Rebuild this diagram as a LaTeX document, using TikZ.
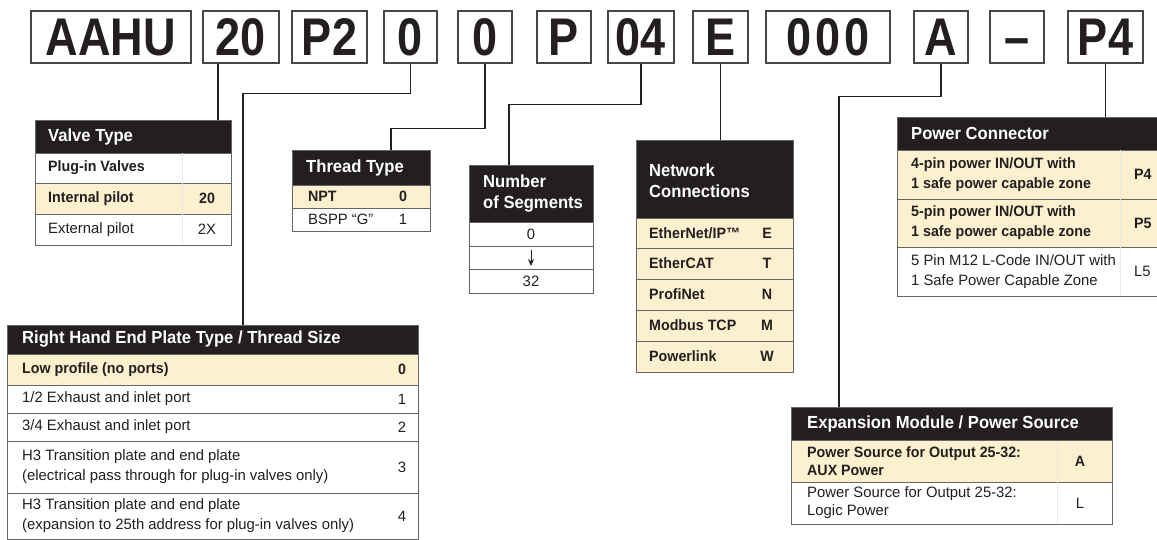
\documentclass[tikz,border=0pt]{standalone}
\usepackage{fontspec}
\setmainfont{Liberation Sans}[FakeStretch=0.95]
\newfontfamily\bigfont{Liberation Sans}[FakeStretch=0.85]
\newfontfamily\regfont{Liberation Sans}[FakeStretch=0.99]
\usetikzlibrary{arrows.meta}
\definecolor{cream}{RGB}{253,240,206}
\definecolor{hdrblack}{RGB}{35,31,32}
\definecolor{ink}{RGB}{35,31,32}
\newcommand{\rowfont}{\fontsize{15}{18.5}\selectfont}
\newcommand{\hdrfont}{\bfseries\fontsize{17.5}{21}\selectfont}
\newcommand{\codefont}{\bigfont\bfseries\fontsize{53}{53}\selectfont}
\begin{document}
\begin{tikzpicture}[x=1pt,y=-1pt,
  codebox/.style={draw=black!72, line width=1.5pt, minimum height=52pt, inner sep=0pt, text height=38pt, text depth=0pt, font=\codefont, text=ink},
  tab/.style={draw=black!60, line width=0.9pt, anchor=north west, inner sep=0pt, outer sep=0pt},
  hdr/.style={tab, fill=hdrblack},
  wrow/.style={tab, fill=white},
  crow/.style={tab, fill=cream},
  htxt/.style={anchor=west, inner sep=0pt, text=white, font=\hdrfont, align=left},
  rtxt/.style={anchor=west, inner sep=0pt, text=ink, font=\regfont\rowfont, align=left},
  btxt/.style={rtxt, font=\rowfont\bfseries},
  ctxt/.style={anchor=center, inner sep=0pt, text=ink, font=\regfont\rowfont},
  bctxt/.style={ctxt, font=\rowfont\bfseries},
  wide/.style={font=\fontsize{15}{20}\selectfont},
  conn/.style={draw=ink, line width=1.5pt},
  coldiv/.style={draw=black!9, line width=0.7pt}]
\useasboundingbox (0,0) rectangle (1157,540);
\fill[white] (0,0) rectangle (1157,540);

% ---------- code boxes ----------
\node[codebox, minimum width=160pt] (bAAHU) at (111,37) {AAHU};
\node[codebox, minimum width=76pt] (b20) at (241,37) {20};
\node[codebox, minimum width=75pt] (bP2) at (329.5,37) {P2};
\node[codebox, minimum width=53pt] (b0a) at (410.5,37) {0};
\node[codebox, minimum width=54pt] (b0b) at (485,37) {0};
\node[codebox, minimum width=54pt] (bP) at (564,37) {P};
\node[codebox, minimum width=66pt] (b04) at (641,37) {04};
\node[codebox, minimum width=55pt] (bE) at (720.5,37) {E};
\node[codebox, minimum width=124pt] (b000) at (828,37) {0\kern4pt0\kern4pt0};
\node[codebox, minimum width=54pt] (bA) at (941,37) {A};
\node[codebox, minimum width=54pt] (bdash) at (1017,37) {–};
\node[codebox, minimum width=75pt] (bP4) at (1105.5,37) {P4};

% ---------- Valve Type ----------
\node[hdr, minimum width=196pt, minimum height=33pt] (vt-h) at (35,120) {};
\node[wrow, minimum width=196pt, minimum height=30pt] (vt-1) at (35,153) {};
\node[crow, minimum width=196pt, minimum height=31pt] (vt-2) at (35,183) {};
\node[wrow, minimum width=196pt, minimum height=31pt] (vt-3) at (35,214) {};
\draw[coldiv] (182,153.5) -- (182,244.5);
\node[htxt] (vt-ht) at (48,136.5) {Valve Type};
\node[btxt] (vt-1t) at (48,168) {Plug-in Valves};
\node[btxt] (vt-2t) at (48,198.5) {Internal pilot};
\node[bctxt] (vt-2c) at (207,198.5) {20};
\node[rtxt] (vt-3t) at (48,229.5) {External pilot};
\node[ctxt] (vt-3c) at (207,229.5) {2X};

% ---------- Thread Type ----------
\node[hdr, minimum width=138pt, minimum height=35pt] (tt-h) at (292,150) {};
\node[crow, minimum width=138pt, minimum height=23pt] (tt-1) at (292,185) {};
\node[wrow, minimum width=138pt, minimum height=23pt] (tt-2) at (292,208) {};
\node[htxt] (tt-ht) at (306,167.5) {Thread Type};
\node[btxt] (tt-1t) at (308,196.5) {NPT};
\node[bctxt] (tt-1c) at (403,196.5) {0};
\node[rtxt] (tt-2t) at (308,219.5) {BSPP “G”};
\node[ctxt] (tt-2c) at (403,219.5) {1};

% ---------- Number of Segments ----------
\node[hdr, minimum width=124pt, minimum height=57pt] (ns-h) at (469,165) {};
\node[wrow, minimum width=124pt, minimum height=24pt] (ns-1) at (469,222) {};
\node[wrow, minimum width=124pt, minimum height=23pt] (ns-2) at (469,246) {};
\node[wrow, minimum width=124pt, minimum height=24pt] (ns-3) at (469,269) {};
\node[htxt] (ns-ht) at (483,194) {Number\\of Segments};
\node[ctxt] (ns-1c) at (531,234) {0};
\node[ctxt] (ns-3c) at (531,281) {32};
\draw[ink, line width=0.9pt, -{Stealth[length=7pt,width=6pt]}] ([yshift=-4pt]ns-2.north) -- ([yshift=3pt]ns-2.south);

% ---------- Network Connections ----------
\node[hdr, minimum width=157pt, minimum height=78pt] (nc-h) at (636,140) {};
\node[crow, minimum width=157pt, minimum height=30pt] (nc-1) at (636,218) {};
\node[crow, minimum width=157pt, minimum height=31pt] (nc-2) at (636,248) {};
\node[crow, minimum width=157pt, minimum height=31pt] (nc-3) at (636,279) {};
\node[crow, minimum width=157pt, minimum height=31pt] (nc-4) at (636,310) {};
\node[crow, minimum width=157pt, minimum height=31pt] (nc-5) at (636,341) {};
\node[htxt] (nc-ht) at (649,181) {Network\\Connections};
\node[btxt] (nc-1t) at (649,233) {EtherNet/IP™};
\node[bctxt] (nc-1c) at (767,233) {E};
\node[btxt] (nc-2t) at (649,263.5) {EtherCAT};
\node[bctxt] (nc-2c) at (767,263.5) {T};
\node[btxt] (nc-3t) at (649,294.5) {ProfiNet};
\node[bctxt] (nc-3c) at (767,294.5) {N};
\node[btxt] (nc-4t) at (649,325.5) {Modbus TCP};
\node[bctxt] (nc-4c) at (767,325.5) {M};
\node[btxt] (nc-5t) at (649,356.5) {Powerlink};
\node[bctxt] (nc-5c) at (767,356.5) {W};

% ---------- Power Connector ----------
\node[hdr, minimum width=264pt, minimum height=33pt] (pc-h) at (897,117) {};
\node[crow, minimum width=264pt, minimum height=49pt] (pc-1) at (897,150) {};
\node[crow, minimum width=264pt, minimum height=48pt] (pc-2) at (897,199) {};
\node[wrow, minimum width=264pt, minimum height=49pt] (pc-3) at (897,247) {};
\draw[coldiv] (1120,150.5) -- (1120,295.5);
\node[htxt] (pc-ht) at (911,133.5) {Power Connector};
\node[btxt, font=\fontsize{15}{20}\selectfont\bfseries] (pc-1t) at (911,174.5) {4-pin power IN/OUT with\\1 safe power capable zone};
\node[btxt] (pc-1c) at (1134,174.5) {P4};
\node[btxt, font=\fontsize{15}{20}\selectfont\bfseries] (pc-2t) at (911,223) {5-pin power IN/OUT with\\1 safe power capable zone};
\node[btxt] (pc-2c) at (1134,223) {P5};
\node[rtxt, font=\regfont\fontsize{15}{20}\selectfont] (pc-3t) at (911,271.5) {5 Pin M12 L-Code IN/OUT with\\1 Safe Power Capable Zone};
\node[rtxt] (pc-3c) at (1134,271.5) {L5};

% ---------- Right Hand End Plate ----------
\node[hdr, minimum width=411pt, minimum height=29pt] (rh-h) at (7,325) {};
\node[crow, minimum width=411pt, minimum height=31pt] (rh-1) at (7,354) {};
\node[wrow, minimum width=411pt, minimum height=28pt] (rh-2) at (7,385) {};
\node[wrow, minimum width=411pt, minimum height=28pt] (rh-3) at (7,413) {};
\node[wrow, minimum width=411pt, minimum height=52pt] (rh-4) at (7,441) {};
\node[wrow, minimum width=411pt, minimum height=46pt] (rh-5) at (7,493) {};
\node[htxt] (rh-ht) at (22,339.5) {Right Hand End Plate Type / Thread Size};
\node[btxt] (rh-1t) at (22,369.5) {Low profile (no ports)};
\node[bctxt] (rh-1c) at (402,369.5) {0};
\node[rtxt] (rh-2t) at (22,399) {1/2 Exhaust and inlet port};
\node[ctxt] (rh-2c) at (402,399) {1};
\node[rtxt] (rh-3t) at (22,427) {3/4 Exhaust and inlet port};
\node[ctxt] (rh-3c) at (402,427) {2};
\node[rtxt, font=\regfont\fontsize{15}{20}\selectfont] (rh-4t) at (22,467) {H3 Transition plate and end plate\\(electrical pass through for plug-in valves only)};
\node[ctxt] (rh-4c) at (402,467) {3};
\node[rtxt, font=\regfont\fontsize{15}{20}\selectfont] (rh-5t) at (22,516) {H3 Transition plate and end plate\\(expansion to 25th address for plug-in valves only)};
\node[ctxt] (rh-5c) at (402,516) {4};

% ---------- Expansion Module ----------
\node[hdr, minimum width=321pt, minimum height=33pt] (em-h) at (791,407) {};
\node[crow, minimum width=321pt, minimum height=42pt] (em-1) at (791,440) {};
\node[wrow, minimum width=321pt, minimum height=42pt] (em-2) at (791,482) {};
\draw[coldiv] (1057,440.5) -- (1057,523.5);
\node[htxt] (em-ht) at (807,423.5) {Expansion Module / Power Source};
\node[btxt, font=\fontsize{15}{18}\selectfont\bfseries] (em-1t) at (807,461) {Power Source for Output 25-32:\\AUX Power};
\node[bctxt] (em-1c) at (1080,461) {A};
\node[rtxt, font=\regfont\fontsize{15}{18}\selectfont] (em-2t) at (807,503) {Power Source for Output 25-32:\\Logic Power};
\node[ctxt] (em-2c) at (1080,503) {L};

% ---------- connectors ----------
\coordinate (x20) at (218,0);
\coordinate (xrh) at (243,0);
\coordinate (xtt) at (391,0);
\coordinate (xns) at (509,0);
\coordinate (xem) at (839,0);
\draw[conn] (b20.south -| x20) -- (vt-h.north -| x20);
\draw[conn] (b0a.south) -- ++(0,30) -| (rh-h.north -| xrh);
\draw[conn] (b0b.south) -- ++(0,65) -| (tt-h.north -| xtt);
\draw[conn] (b04.south) -- ++(0,41) -| (ns-h.north -| xns);
\draw[conn] (bE.south) -- (bE.south |- nc-h.north);
\draw[conn] (bA.south) -- ++(0,33) -| (em-h.north -| xem);
\draw[conn] (bP4.south) -- (bP4.south |- pc-h.north);
\end{tikzpicture}
\end{document}
